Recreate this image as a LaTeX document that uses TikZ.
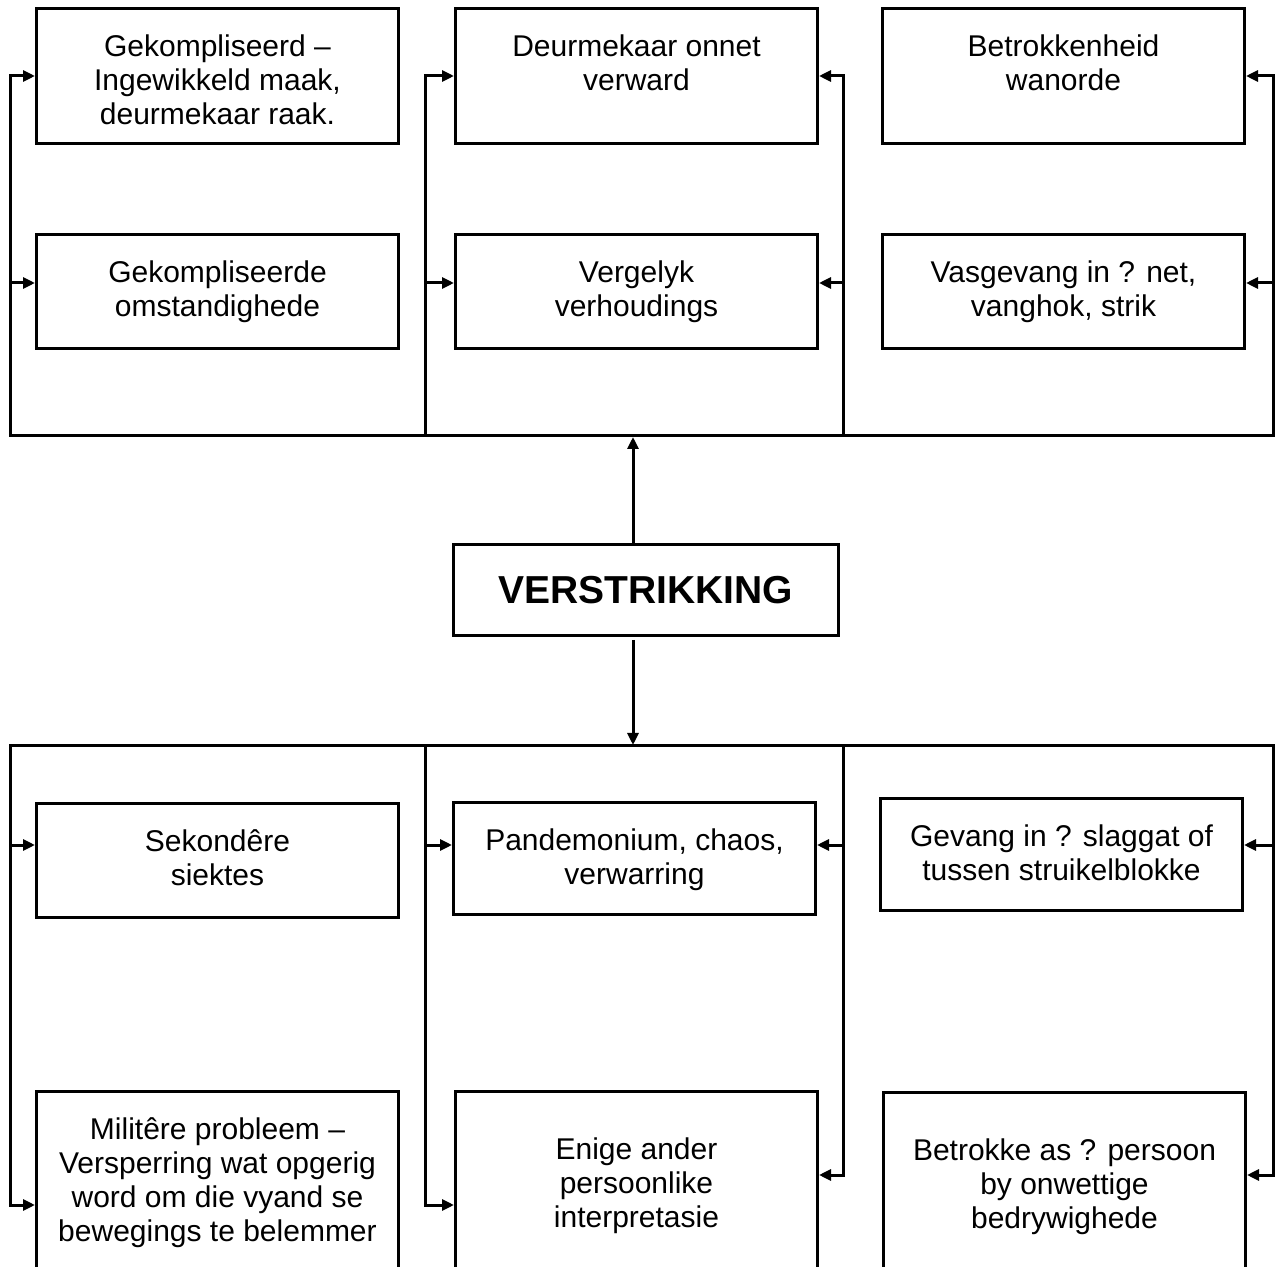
\documentclass[tikz,border=0pt]{standalone}
\usepackage{fontspec}
\setmainfont{Liberation Sans}
\usetikzlibrary{arrows.meta}
\newcommand{\boxtext}[3][24pt]{\begin{minipage}[t][#2][t]{181pt}\centering\rule{0pt}{#1}#3\end{minipage}}

\tikzset{
  cell/.style={draw, inner sep=0pt, anchor=north west,
    font=\fontsize{15pt}{17pt}\selectfont},
  bus/.style={line cap=rect}
}

\begin{document}
\begin{tikzpicture}[x=0.5pt,y=-0.5pt,line width=1.5pt,
    >={Triangle[length=6pt,width=5.5pt]}]
   \useasboundingbox (0,0) rectangle (1276,1267);
   \clip (0,0) rectangle (1276,1267);

   \node[cell] (a)  at (35,7)    {\boxtext{67.5pt}{Gekompliseerd –\\Ingewikkeld maak,\\deurmekaar raak.}};
   \node[cell] (b)  at (454,7)   {\boxtext{67.5pt}{Deurmekaar onnet\\verward}};
   \node[cell] (c)  at (881,7)   {\boxtext{67.5pt}{Betrokkenheid\\wanorde}};
   \node[cell] (a2) at (35,233)  {\boxtext{57pt}{Gekompliseerde\\omstandighede}};
   \node[cell] (b2) at (454,233) {\boxtext{57pt}{Vergelyk\\verhoudings}};
   \node[cell] (c2) at (881,233) {\boxtext{57pt}{Vasgevang in ? net,\\vanghok, strik}};

   \node[draw, anchor=north west, minimum width=192.5pt, minimum height=45.5pt,
     font=\bfseries\fontsize{19.5pt}{23pt}\selectfont] (v) at (452,543) {VERSTRIKKING};

   \node[cell] (d)  at (35,802)   {\boxtext{57pt}{Sekondêre\\siektes}};
   \node[cell] (e)  at (452,801)  {\boxtext{56pt}{Pandemonium, chaos,\\verwarring}};
   \node[cell] (f)  at (879,797)  {\boxtext{56pt}{Gevang in ? slaggat of\\tussen struikelblokke}};
   \node[cell] (d2) at (35,1090)  {\boxtext{120pt}{Militêre probleem –\\Versperring wat opgerig\\word om die vyand se\\bewegings te belemmer}};
   \node[cell] (e2) at (454,1090) {\boxtext[34pt]{120pt}{Enige ander\\persoonlike\\interpretasie}};
   \node[cell] (f2) at (882,1091) {\boxtext[34pt]{120pt}{Betrokke as ? persoon\\by onwettige\\bedrywighede}};

   \coordinate (r1) at (0,76);
   \coordinate (r2) at (0,283);
   \coordinate (r3) at (0,845);
   \coordinate (r4) at (0,1175);
   \coordinate (r5) at (0,1205);

   \coordinate (busTL) at (10,436);
   \coordinate (busT1) at (425,436);
   \coordinate (busT2) at (843,436);
   \coordinate (busTR) at (1273,436);
   \coordinate (busTC) at (633,437);
   \coordinate (busBL) at (10,746);
   \coordinate (busB1) at (425,746);
   \coordinate (busB2) at (843,746);
   \coordinate (busBR) at (1273,746);
   \coordinate (busBC) at (633,745);

   \draw[bus] (busTL) -- (busTR);
   \draw[->] (busTL) |- (a.west |- r1);
   \draw[->] (busTL |- r2) -- (a2.west |- r2);
   \draw[->] (busT1) |- (b.west |- r1);
   \draw[->] (busT1 |- r2) -- (b2.west |- r2);
   \draw[->] (busT2) |- (b.east |- r1);
   \draw[->] (busT2 |- r2) -- (b2.east |- r2);
   \draw[->] (busTR) |- (c.east |- r1);
   \draw[->] (busTR |- r2) -- (c2.east |- r2);

   \draw[->] (v.north -| busTC) -- (busTC);
   \draw[->] ([yshift=-1.5pt]v.south -| busBC) -- (busBC);

   \draw[bus] (busBL) -- (busBR);
   \draw[->] (busBL) |- (d2.west |- r5);
   \draw[->] (busBL |- r3) -- (d.west |- r3);
   \draw[->] (busB1) |- (e2.west |- r5);
   \draw[->] (busB1 |- r3) -- (e.west |- r3);
   \draw[->] (busB2) |- (e2.east |- r4);
   \draw[->] (busB2 |- r3) -- (e.east |- r3);
   \draw[->] (busBR) |- (f2.east |- r4);
   \draw[->] (busBR |- r3) -- (f.east |- r3);
\end{tikzpicture}
\end{document}
